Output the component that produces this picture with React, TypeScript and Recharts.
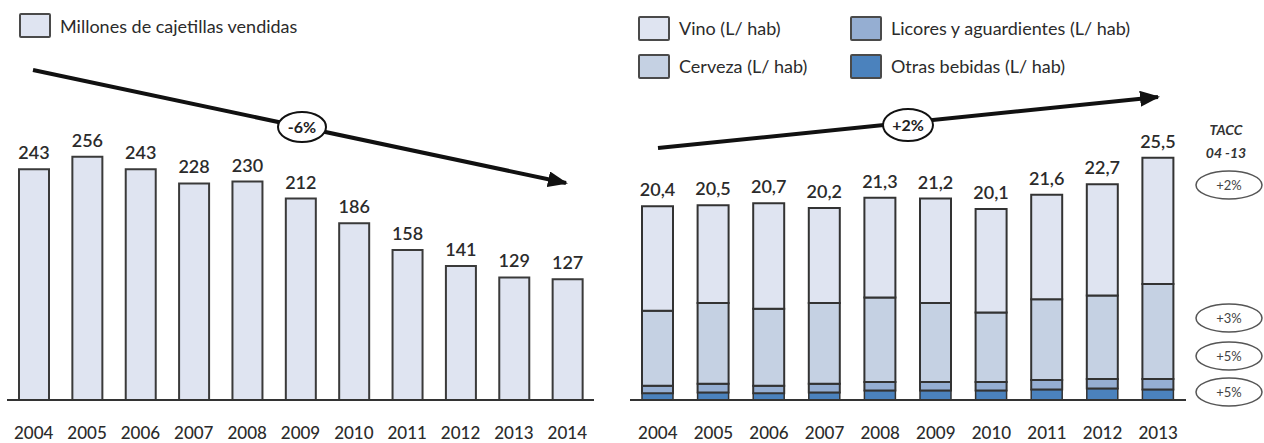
import React from "react";
import { BarChart, Bar, XAxis, YAxis, LabelList } from "recharts";

const leftYears = ["2004", "2005", "2006", "2007", "2008", "2009", "2010", "2011", "2012", "2013", "2014"];
const cajetillas = [243, 256, 243, 228, 230, 212, 186, 158, 141, 129, 127];

const rightYears = ["2004", "2005", "2006", "2007", "2008", "2009", "2010", "2011", "2012", "2013"];
const totales = [20.4, 20.5, 20.7, 20.2, 21.3, 21.2, 20.1, 21.6, 22.7, 25.5];
const otras = [0.7, 0.8, 0.7, 0.8, 1.0, 1.0, 1.0, 1.1, 1.2, 1.1];
const licores = [0.8, 0.9, 0.8, 0.9, 0.9, 0.9, 0.9, 1.0, 1.0, 1.1];
const cerveza = [7.9, 8.5, 8.1, 8.5, 8.9, 8.3, 7.3, 8.5, 8.8, 10.0];
const vino = [11.0, 10.3, 11.1, 10.0, 10.5, 11.0, 10.9, 11.0, 11.7, 13.3];

const taccLabels = ["+2%", "+3%", "+5%", "+5%"];

const FONT = "Lato, 'Open Sans', sans-serif";
const INK = "#2b2b2b";

const C_VINO = "#dfe4f1";
const C_CERV = "#c5d1e3";
const C_LIC = "#95aed2";
const C_OTRAS = "#4b82bd";

const leftData = leftYears.map((y, i) => ({ year: y, value: cajetillas[i] }));
const rightData = rightYears.map((y, i) => ({
  year: y,
  otras: otras[i],
  licores: licores[i],
  cerveza: cerveza[i],
  vino: vino[i],
  total: totales[i].toFixed(1).replace(".", ","),
}));

function Swatch({ color }: { color: string }) {
  return (
    <span
      style={{
        display: "inline-block",
        width: 28,
        height: 21,
        background: color,
        border: "2px solid #4a4a4a",
        borderRadius: 2,
        marginRight: 9,
        verticalAlign: "middle",
      }}
    />
  );
}

function LeftLegend() {
  return (
    <div style={{ fontFamily: FONT, fontSize: 18, color: INK, display: "flex", alignItems: "center" }}>
      <Swatch color={C_VINO} />
      <span>Millones de cajetillas vendidas</span>
    </div>
  );
}

function RightLegend() {
  const item = (c: string, t: string) => (
    <div style={{ display: "flex", alignItems: "center", height: 38 }}>
      <Swatch color={c} />
      <span>{t}</span>
    </div>
  );
  return (
    <div style={{ fontFamily: FONT, fontSize: 18, color: INK, display: "grid", gridTemplateColumns: "212px 320px" }}>
      {item(C_VINO, "Vino (L/ hab)")}
      {item(C_LIC, "Licores y aguardientes (L/ hab)")}
      {item(C_CERV, "Cerveza (L/ hab)")}
      {item(C_OTRAS, "Otras bebidas (L/ hab)")}
    </div>
  );
}

const tick = { fontSize: 17, fill: INK, fontFamily: FONT, fontWeight: 500 };
const labelStyle = { fontSize: 18, fill: INK, fontFamily: FONT, fontWeight: 600 };

export default function App() {
  return (
    <div style={{ position: "absolute", left: 0, top: 0, width: 1264, height: 443, background: "#fff", fontFamily: FONT }}>
      <div style={{ position: "absolute", left: 19, top: 13 }}>
        <LeftLegend />
      </div>
      <div style={{ position: "absolute", left: 638, top: 9 }}>
        <RightLegend />
      </div>

      {/* cajetillas */}
      <div style={{ position: "absolute", left: 0, top: 0 }}>
        <BarChart width={600} height={443} data={leftData} margin={{ top: 115, right: 6, left: 7, bottom: 12 }}>
          <XAxis
            dataKey="year"
            axisLine={{ stroke: "#333", strokeWidth: 2 }}
            tickLine={false}
            tickSize={0}
            tickMargin={27}
            height={31}
            tick={tick}
            interval={0}
          />
          <YAxis hide domain={[0, 300]} />
          <Bar dataKey="value" fill={C_VINO} stroke="#3a3a3a" strokeWidth={2} barSize={30} isAnimationActive={false}>
            <LabelList dataKey="value" position="top" offset={10} style={labelStyle} />
          </Bar>
        </BarChart>
      </div>

      {/* bebidas */}
      <div style={{ position: "absolute", left: 600, top: 0 }}>
        <BarChart width={600} height={443} data={rightData} margin={{ top: 115, right: 14, left: 30, bottom: 12 }}>
          <XAxis
            dataKey="year"
            axisLine={{ stroke: "#333", strokeWidth: 2 }}
            tickLine={false}
            tickSize={0}
            tickMargin={27}
            height={31}
            tick={tick}
            interval={0}
          />
          <YAxis hide domain={[0, 30]} />
          <Bar dataKey="otras" stackId="a" fill={C_OTRAS} stroke="#333" strokeWidth={1.5} barSize={31} isAnimationActive={false} />
          <Bar dataKey="licores" stackId="a" fill={C_LIC} stroke="#333" strokeWidth={2} barSize={31} isAnimationActive={false} />
          <Bar dataKey="cerveza" stackId="a" fill={C_CERV} stroke="#333" strokeWidth={2} barSize={31} isAnimationActive={false} />
          <Bar dataKey="vino" stackId="a" fill={C_VINO} stroke="#333" strokeWidth={2} barSize={31} isAnimationActive={false}>
            <LabelList dataKey="total" position="top" offset={10} style={labelStyle} />
          </Bar>
        </BarChart>
      </div>

      {/* arrows and TACC notes */}
      <svg width={1264} height={443} style={{ position: "absolute", left: 0, top: 0, pointerEvents: "none" }}>
        <defs>
          <marker id="head" markerUnits="userSpaceOnUse" markerWidth={20} markerHeight={16} refX={18} refY={8} orient="auto">
            <path d="M0,0 L20,8 L0,16 z" fill="#111" />
          </marker>
        </defs>
        <line x1={33} y1={70} x2={566} y2={183} stroke="#111" strokeWidth={4} markerEnd="url(#head)" />
        <ellipse cx={302} cy={127} rx={24} ry={15} fill="#fff" stroke="#111" strokeWidth={2} />
        <text x={302} y={133} textAnchor="middle" fontSize={16} fontWeight={700} fill="#222" fontFamily={FONT}>-6%</text>

        <line x1={658} y1={148} x2={1158} y2={97} stroke="#111" strokeWidth={4} markerEnd="url(#head)" />
        <ellipse cx={908} cy={125} rx={25} ry={16} fill="#fff" stroke="#111" strokeWidth={2} />
        <text x={908} y={131} textAnchor="middle" fontSize={16} fontWeight={700} fill="#222" fontFamily={FONT}>+2%</text>

        <text x={1226} y={135} textAnchor="middle" fontSize={14} fontStyle="italic" fontWeight={700} fill="#333" fontFamily={FONT}>TACC</text>
        <text x={1226} y={158} textAnchor="middle" fontSize={14} fontStyle="italic" fontWeight={700} fill="#333" fontFamily={FONT}>04 -13</text>
        {[185, 318, 356, 392].map((cy, i) => (
          <g key={i}>
            <ellipse cx={1229} cy={cy} rx={33} ry={14} fill="#fff" stroke="#555" strokeWidth={1.5} />
            <text x={1229} y={cy + 5} textAnchor="middle" fontSize={13} fill="#444" fontFamily={FONT}>{taccLabels[i]}</text>
          </g>
        ))}
      </svg>
    </div>
  );
}
